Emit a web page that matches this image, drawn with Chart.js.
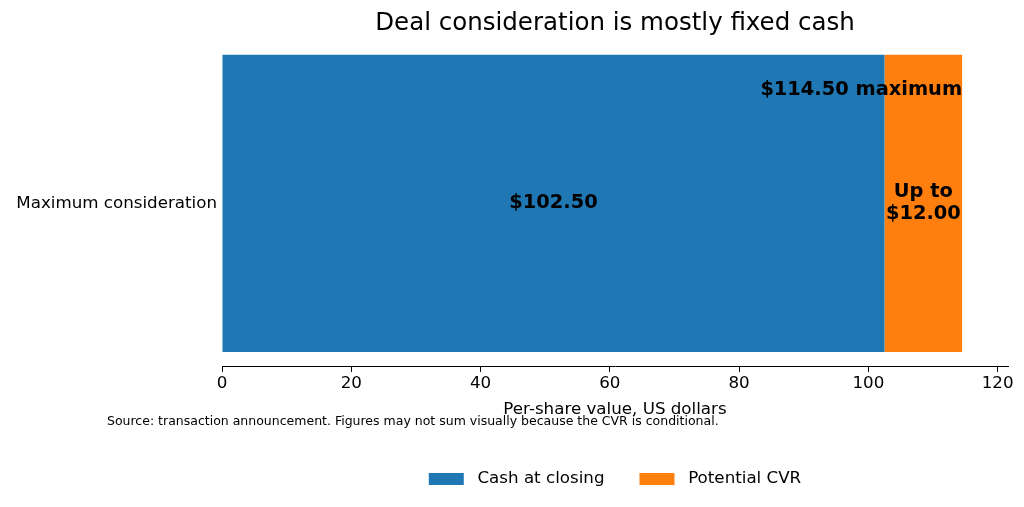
<!DOCTYPE html>
<html>
<head>
<meta charset="utf-8">
<script src="https://cdn.jsdelivr.net/npm/chart.js"></script>
<style>
  html, body { margin: 0; padding: 0; background: #fff; }
  #wrap { width: 1024px; height: 507px; }
</style>
</head>
<body>
<div id="wrap"><canvas id="dealChart" width="1024" height="507"></canvas></div>
<script>
// data
const categories = ['Maximum consideration'];
const cashAtClosing = [102.5];
const potentialCvr = [12.0];
const xTicks = [0, 20, 40, 60, 80, 100, 120];

const FONT = "'DejaVu Sans', sans-serif";
const BLUE = '#1f77b4';
const ORANGE = '#ff7f0e';

// labels drawn on top of the bars, positioned from the bar elements
const barLabels = {
    id: 'barLabels',
    afterDatasetsDraw(chart) {
        const ctx = chart.ctx;
        const cash = chart.getDatasetMeta(0).data[0];
        const cvr = chart.getDatasetMeta(1).data[0];
        const half = cash.height / 2;
        ctx.save();
        ctx.fillStyle = '#000';
        ctx.font = 'bold 19.4px ' + FONT;
        ctx.textBaseline = 'middle';
        ctx.textAlign = 'center';
        ctx.fillText('$' + cashAtClosing[0].toFixed(2), (cash.base + cash.x) / 2, cash.y);
        const cx = (cvr.base + cvr.x) / 2;
        ctx.fillText('Up to', cx, cvr.y - 11);
        ctx.fillText('$' + potentialCvr[0].toFixed(2), cx, cvr.y + 11);
        const total = cashAtClosing[0] + potentialCvr[0];
        ctx.textAlign = 'right';
        ctx.fillText('$' + total.toFixed(2) + ' maximum', cvr.x, cvr.y - half * 0.765);
        ctx.restore();
    }
};

const sourceNote = {
    id: 'sourceNote',
    afterDraw(chart) {
        const ctx = chart.ctx;
        ctx.save();
        ctx.fillStyle = '#000';
        ctx.font = '12.5px ' + FONT;
        ctx.textBaseline = 'middle';
        ctx.textAlign = 'left';
        ctx.fillText('Source: transaction announcement. Figures may not sum visually because the CVR is conditional.', 107, 422);
        ctx.restore();
    }
};

new Chart(document.getElementById('dealChart').getContext('2d'), {
    type: 'bar',
    data: {
        labels: categories,
        datasets: [
            {
                label: ' Cash at closing',
                data: cashAtClosing,
                backgroundColor: BLUE,
                borderWidth: 0,
                barPercentage: 0.909,
                categoryPercentage: 1
            },
            {
                label: ' Potential CVR',
                data: potentialCvr,
                backgroundColor: ORANGE,
                borderWidth: 0,
                barPercentage: 0.909,
                categoryPercentage: 1
            }
        ]
    },
    options: {
        indexAxis: 'y',
        responsive: false,
        animation: false,
        layout: { padding: { left: 0, right: 16, top: 0, bottom: 9.7 } },
        plugins: {
            title: {
                display: true,
                text: 'Deal consideration is mostly fixed cash',
                fullSize: false,
                color: '#000',
                font: { family: FONT, size: 24.5, weight: 'normal', lineHeight: 1.2 },
                padding: { top: 9.3, bottom: 1.3 }
            },
            legend: {
                position: 'bottom',
                fullSize: false,
                labels: {
                    color: '#000',
                    font: { family: FONT, size: 16.7 },
                    boxWidth: 35,
                    boxHeight: 12,
                    padding: 35
                }
            },
            tooltip: { enabled: false }
        },
        scales: {
            x: {
                stacked: true,
                min: 0,
                max: 121.6,
                afterBuildTicks(axis) {
                    axis.ticks = xTicks.map(v => ({ value: v }));
                },
                grid: { display: true, drawOnChartArea: false, tickLength: 5, color: '#000', tickWidth: 1 },
                border: { display: true, color: '#000', width: 1 },
                ticks: {
                    color: '#000',
                    padding: 2,
                    maxRotation: 0,
                    font: { family: FONT, size: 16.7, lineHeight: 1.2 }
                },
                title: {
                    display: true,
                    text: 'Per-share value, US dollars',
                    color: '#000',
                    font: { family: FONT, size: 16.7, lineHeight: 1.2 },
                    padding: { top: 4, bottom: 15.6 }
                }
            },
            y: {
                stacked: true,
                grid: { display: false, drawTicks: false },
                border: { display: false },
                ticks: {
                    color: '#000',
                    padding: 5,
                    font: { family: FONT, size: 16.7 }
                },
                afterFit(axis) { axis.width = 222; }
            }
        }
    },
    plugins: [barLabels, sourceNote]
});
</script>
</body>
</html>
